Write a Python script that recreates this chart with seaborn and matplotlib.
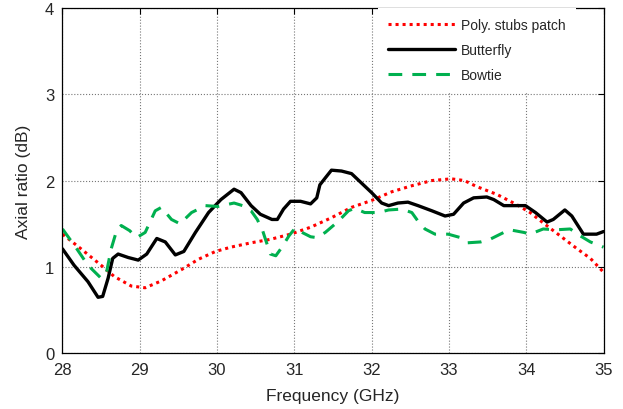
import numpy as np
import pandas as pd
import matplotlib
matplotlib.use('Agg')
import matplotlib.pyplot as plt
import seaborn as sns

# axial ratio curves (GHz, dB)
poly_freq = [28.0, 28.24, 28.5, 28.67, 28.89, 29.07, 29.28, 29.54, 29.76, 29.98,
             30.18, 30.44, 30.69, 30.95, 31.21, 31.48, 31.74, 32.0, 32.26, 32.52,
             32.78, 33.03, 33.2, 33.36, 33.62, 33.88, 34.05, 34.22, 34.44, 34.66,
             34.83, 35.0]
poly_ar = [1.38, 1.21, 1.02, 0.89, 0.78, 0.76, 0.84, 0.97, 1.09, 1.18,
           1.23, 1.28, 1.32, 1.38, 1.46, 1.57, 1.69, 1.77, 1.87, 1.94,
           2.0, 2.02, 2.0, 1.93, 1.84, 1.72, 1.63, 1.51, 1.36, 1.21,
           1.10, 0.94]

butterfly_freq = [28.0, 28.15, 28.33, 28.46, 28.52, 28.59, 28.65, 28.72, 28.85, 28.98,
                  29.09, 29.22, 29.33, 29.46, 29.57, 29.72, 29.89, 30.05, 30.22, 30.31,
                  30.44, 30.56, 30.71, 30.78, 30.86, 30.95, 31.08, 31.21, 31.29, 31.33,
                  31.40, 31.48, 31.61, 31.74, 31.87, 32.0, 32.13, 32.22, 32.34, 32.47,
                  32.60, 32.78, 32.95, 33.06, 33.19, 33.32, 33.49, 33.58, 33.71, 33.99,
                  34.12, 34.27, 34.35, 34.50, 34.59, 34.74, 34.91, 35.0]
butterfly_ar = [1.21, 1.02, 0.83, 0.65, 0.66, 0.87, 1.10, 1.15, 1.11, 1.08,
                1.15, 1.33, 1.29, 1.14, 1.18, 1.40, 1.63, 1.78, 1.90, 1.86,
                1.71, 1.61, 1.55, 1.55, 1.67, 1.76, 1.76, 1.73, 1.80, 1.95,
                2.03, 2.12, 2.11, 2.08, 1.97, 1.86, 1.74, 1.71, 1.74, 1.75,
                1.71, 1.65, 1.59, 1.61, 1.74, 1.80, 1.81, 1.78, 1.71, 1.71,
                1.63, 1.52, 1.55, 1.66, 1.59, 1.38, 1.38, 1.41]

bowtie_freq = [28.0, 28.17, 28.33, 28.50, 28.57, 28.63, 28.70, 28.76, 28.87, 28.96,
               29.07, 29.20, 29.28, 29.41, 29.52, 29.67, 29.85, 30.01, 30.22, 30.33,
               30.44, 30.52, 30.59, 30.63, 30.69, 30.76, 30.84, 30.93, 31.01, 31.10,
               31.21, 31.29, 31.40, 31.57, 31.70, 31.78, 31.91, 32.09, 32.22, 32.39,
               32.52, 32.60, 32.69, 32.82, 32.99, 33.15, 33.24, 33.41, 33.53, 33.71,
               33.79, 33.97, 34.05, 34.22, 34.38, 34.57, 34.70, 34.83, 35.0]
bowtie_ar = [1.44, 1.23, 1.02, 0.87, 0.94, 1.21, 1.42, 1.48, 1.42, 1.34,
             1.40, 1.65, 1.69, 1.55, 1.50, 1.63, 1.71, 1.70, 1.74, 1.71,
             1.65, 1.55, 1.42, 1.31, 1.15, 1.13, 1.23, 1.36, 1.45, 1.40,
             1.35, 1.34, 1.40, 1.53, 1.65, 1.68, 1.63, 1.63, 1.66, 1.67,
             1.63, 1.53, 1.44, 1.38, 1.38, 1.34, 1.28, 1.29, 1.32, 1.40,
             1.43, 1.40, 1.38, 1.44, 1.43, 1.44, 1.36, 1.29, 1.23]

labels = ['Poly. stubs patch', 'Butterfly', 'Bowtie']

sns.set_style('white')
plt.rcParams['font.family'] = ['Liberation Sans', 'DejaVu Sans']

fig, ax = plt.subplots(figsize=(6.23, 4.10), dpi=100)
fig.subplots_adjust(left=0.1003, right=0.9687, bottom=0.1354, top=0.979)

sns.lineplot(x=poly_freq, y=poly_ar, ax=ax, color='#ff0000', lw=2.2,
             linestyle=(0, (1.0, 1.3)), label=labels[0], estimator=None,
             dash_joinstyle='round')
sns.lineplot(x=butterfly_freq, y=butterfly_ar, ax=ax, color='black', lw=2.4,
             label=labels[1], estimator=None, solid_joinstyle='round')
sns.lineplot(x=bowtie_freq, y=bowtie_ar, ax=ax, color='#00b04f', lw=2.2,
             linestyle=(0, (4.5, 3.3)), label=labels[2], estimator=None,
             dash_joinstyle='round')

ax.set_xlim(28, 35)
ax.set_ylim(0, 4)
ax.set_xticks(range(28, 36))
ax.set_yticks(range(0, 5))
ax.grid(True, linestyle=':', color='#777777', linewidth=0.8)
ax.set_axisbelow(True)
for s in ax.spines.values():
    s.set_color('black')
    s.set_linewidth(0.9)
ax.tick_params(direction='in', length=4, width=0.8, top=True, right=True,
               labelsize=12, color='black', pad=6)
ax.set_xlabel('Frequency (GHz)', fontsize=12.5, labelpad=8)
ax.set_ylabel('Axial ratio (dB)', fontsize=12.5, labelpad=10)

leg = ax.legend(loc='upper left', bbox_to_anchor=(0.583, 1.0), fontsize=10,
                frameon=True, fancybox=False, framealpha=1, edgecolor='none',
                facecolor='white', handlelength=4.8, handletextpad=0.45,
                labelspacing=0.78, borderpad=0.75, borderaxespad=0)

fig.savefig('out.png', dpi=100)
